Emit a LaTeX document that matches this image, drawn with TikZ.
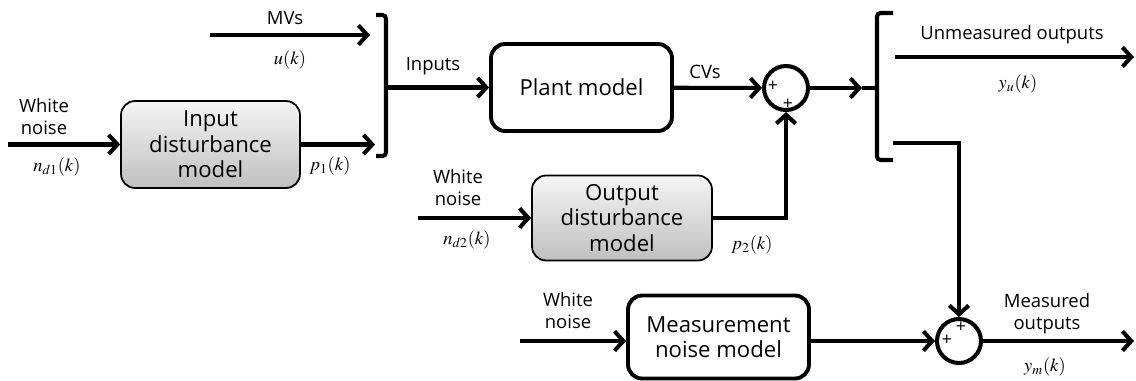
\documentclass[tikz,border=0pt]{standalone}
\usepackage{mathptmx}
\usepackage[no-math]{fontspec}
\setmainfont{Open Sans}
\usetikzlibrary{arrows.meta}
\tikzset{
  flow/.style={line width=2.3pt, -{Straight Barb[length=5pt,width=11pt,line join=miter]}},
  brk/.style={line width=2.3pt, rounded corners=2pt},
  gbox/.style={draw, line width=1pt, rounded corners=8pt, top color=gray!8, bottom color=gray!50,
    align=center, font=\fontsize{12.6}{14.5}\selectfont, inner sep=0pt},
  wbox/.style={draw, line width=2.2pt, rounded corners=8pt, fill=white,
    align=center, font=\fontsize{12.6}{14.5}\selectfont, inner sep=0pt},
  sumnode/.style={draw, circle, line width=2.3pt, minimum size=0.88cm, inner sep=0pt},
  lbl/.style={align=center, font=\fontsize{10.5}{12.5}\selectfont, inner sep=0pt},
  mlbl/.style={font=\fontsize{10.5}{12}\selectfont, inner sep=0pt},
  sgn/.style={font=\fontsize{10}{10}\selectfont, inner sep=0pt}
}
\begin{document}
\begin{tikzpicture}[x=0.02cm, y=-0.02cm]
  \useasboundingbox (0,0) rectangle (1136,380);

  % blocks
  \node[gbox, minimum width=3.58cm, minimum height=1.74cm] (idm) at (210.5,144.5) {Input\\disturbance\\model};
  \node[wbox, minimum width=3.62cm, minimum height=1.74cm] (plant) at (581.5,87.5) {Plant model};
  \node[gbox, minimum width=3.6cm, minimum height=1.7cm] (odm) at (622,218) {Output\\disturbance\\model};
  \node[wbox, minimum width=3.62cm, minimum height=1.66cm] (mnm) at (718.5,337) {Measurement\\noise model};
  \node[sumnode] (sum1) at (786,88) {};
  \node[sumnode] (sum2) at (959,341) {};
  \node[sgn] (s1a) at (773,86) {+};
  \node[sgn] (s1b) at (788,104) {+};
  \node[sgn] (s2a) at (947,340) {+};
  \node[sgn] (s2b) at (961,327) {+};

  % free ends
  \coordinate (wn1) at (8,144.5);
  \coordinate (p1end) at (375,144.5);
  \coordinate (mvS) at (210,35);
  \coordinate (mvE) at (370,35);
  \coordinate (inmid) at (386,87.5);
  \coordinate (wn2) at (418,218);
  \coordinate (wn3) at (520,341);
  \coordinate (outmid) at (862,88);
  \coordinate (umS) at (895,57);
  \coordinate (umE) at (1134,57);
  \coordinate (msS) at (893,143);
  \coordinate (msE) at (1134,341);

  % brackets
  \draw[brk] (376,15) -- (386,15) -- (386,156) -- (376,156);
  \draw[brk] (893,13) -- (877,13) -- (877,160) -- (893,160);
  \draw[brk] (877,88) -- (outmid);

  % connectors
  \draw[flow] (wn1) -- (idm);
  \draw[flow] (idm) -- (p1end);
  \draw[flow] (mvS) -- (mvE);
  \draw[flow] (inmid) -- (plant);
  \draw[flow] (plant) -- (sum1);
  \draw[flow] (sum1) -- (outmid);
  \draw[flow] (wn2) -- (odm);
  \draw[flow] (odm) -| (sum1);
  \draw[flow] (umS) -- (umE);
  \draw[flow] (msS) -| (sum2);
  \draw[flow] (wn3) -- (wn3 -| mnm.west);
  \draw[flow] (sum2.west -| mnm.east) -- (sum2);
  \draw[flow] (sum2) -- (msE);

  % labels
  \node[lbl] (l1) at (44,117) {White\\noise};
  \node[mlbl] (m1) at (57,167) {$n_{d1}(k)$};
  \node[mlbl] (m2) at (330,166) {$p_1(k)$};
  \node[lbl] (l2) at (285,18) {MVs};
  \node[mlbl] (m3) at (290,60) {$u(k)$};
  \node[lbl] (l3) at (433,66) {Inputs};
  \node[lbl] (l4) at (705,72) {CVs};
  \node[lbl] (l5) at (1012,35) {Unmeasured outputs};
  \node[mlbl] (m4) at (1018,84) {$y_u(k)$};
  \node[lbl] (l6) at (458,188) {White\\noise};
  \node[mlbl] (m5) at (467,240) {$n_{d2}(k)$};
  \node[mlbl] (m6) at (752,245) {$p_2(k)$};
  \node[lbl] (l7) at (568,311) {White\\noise};
  \node[lbl] (l8) at (1047,314) {Measured\\outputs};
  \node[mlbl] (m7) at (1045,367) {$y_m(k)$};
\end{tikzpicture}
\end{document}
